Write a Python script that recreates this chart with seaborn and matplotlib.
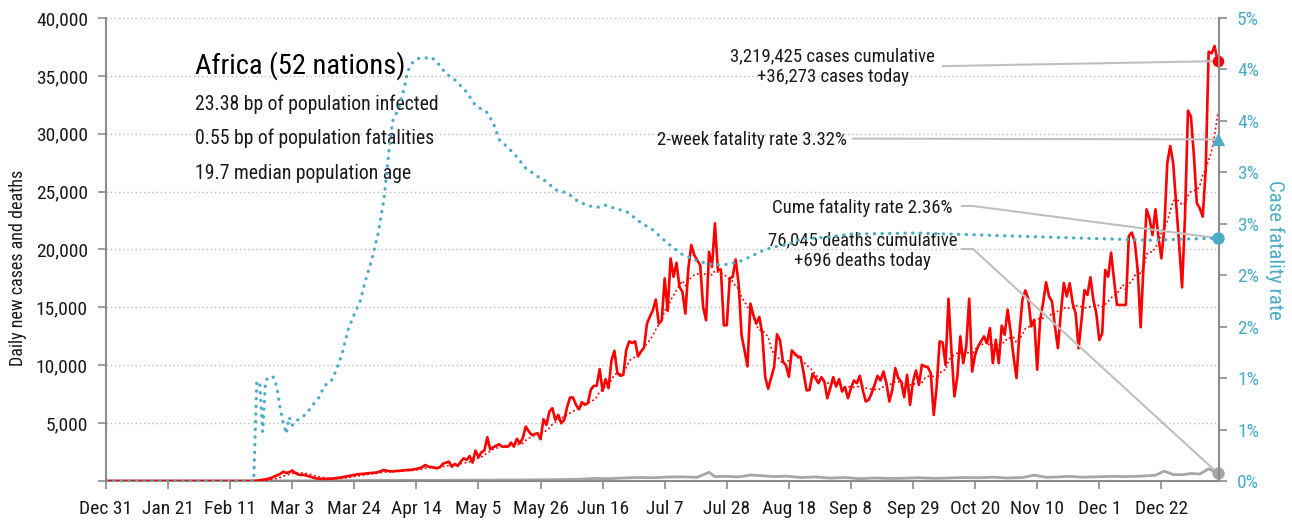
import numpy as np
import pandas as pd
import matplotlib
matplotlib.use("Agg")
import matplotlib.pyplot as plt
import matplotlib.dates as mdates
from matplotlib import font_manager
from matplotlib.ticker import FuncFormatter, FixedLocator
import seaborn as sns

# ---------------------------------------------------------------- data
start_date = "2019-12-31"
first_case_day = 50          # days after start_date

# daily new cases, one value per day from first_case_day to Jan 10 2021
daily_cases = [
    10, 30, 60, 100, 150, 200, 280, 400, 500, 620,
    800, 700, 760, 900, 700, 560, 520, 540, 450, 380,
    300, 230, 200, 190, 180, 190, 200, 220, 260, 290,
    330, 380, 430, 480, 520, 580, 600, 620, 650, 680,
    700, 720, 760, 850, 950, 880, 850, 820, 870, 860,
    900, 930, 960, 950, 1000, 1050, 1100, 1200, 1380, 1250,
    1200, 1150, 1100, 1200, 1500, 1590, 1670, 1240, 1470, 1300,
    1670, 1960, 1820, 2160, 1590, 2630, 2050, 2480, 2630, 3780,
    2740, 2910, 3050, 3170, 2970, 2960, 2970, 3320, 2970, 3640,
    3260, 3700, 4700, 4300, 3980, 4050, 4130, 3610, 5340, 4850,
    6000, 6290, 5280, 5710, 4990, 5280, 6400, 7210, 7210, 6580,
    6200, 6810, 6580, 6720, 7880, 8220, 8220, 9660, 7790, 8800,
    8020, 10410, 11250, 9320, 9090, 9170, 11340, 12060, 11920, 12060,
    10760, 11200, 11500, 13600, 14200, 14750, 15680, 13600, 13890, 17500,
    14700, 19230, 17640, 18850, 16770, 16340, 14460, 18360, 20380, 19520,
    19080, 18650, 15040, 13890, 19800, 18510, 22260, 18220, 18270, 13450,
    13450, 17500, 17640, 19140, 17060, 12590, 11290, 9900, 15330, 14320,
    13600, 14180, 12730, 8980, 7970, 8900, 9840, 12670, 12150, 10300,
    10000, 9000, 11280, 11000, 10760, 10700, 9320, 7820, 7880, 9260,
    8890, 8450, 8970, 8600, 7150, 8020, 8970, 8160, 8800, 7730,
    8110, 7150, 8020, 8680, 8450, 9090, 7880, 6870, 7010, 7590,
    8300, 9090, 8680, 9460, 8450, 6870, 7880, 9750, 8890, 8600,
    7240, 9170, 6580, 8600, 9550, 8310, 10040, 9900, 9840, 9320,
    5710, 8160, 12060, 11970, 10040, 15750, 11190, 7300, 9030, 12490,
    10180, 11630, 15750, 9460, 10900, 11630, 12060, 12490, 11910, 13210,
    10180, 12200, 10180, 13420, 12640, 14800, 12920, 10760, 8890, 12780,
    15670, 16470, 15720, 13360, 13930, 9610, 13930, 15380, 17170, 15950,
    15520, 13360, 11480, 14510, 17110, 15950, 17080, 15350, 14490, 11460,
    13910, 16500, 16070, 17600, 15640, 14490, 12180, 12760, 18230, 17650,
    19730, 17370, 15210, 15210, 15210, 15210, 21170, 21460, 20680, 18230,
    13280, 18810, 23470, 22690, 21250, 23470, 21110, 19240, 21830, 27450,
    28940, 27450, 23990, 20530, 16730, 22840, 32000, 31480, 28170, 23990,
    23560, 22840, 26870, 37090, 36950, 37580, 36273,
]

# cumulative case fatality rate (%), by day offset
cfr_days = [0, 50, 51, 52, 53, 54, 55, 56, 57, 58, 59, 60, 61, 62, 63, 64, 66, 68,
            70, 72, 74, 76, 78, 80, 82, 84, 86, 88, 90, 92, 94, 96, 97, 99, 101,
            102, 104, 106, 108, 110, 112, 115, 118, 122, 125, 129, 131, 133, 136,
            139, 142, 146, 149, 152, 156, 160, 164, 167, 169, 172, 176, 181, 185,
            190, 195, 200, 204, 209, 214, 218, 223, 227, 231, 235, 244, 252, 274,
            297, 319, 342, 353, 364, 376]
cfr_pct = [0.0, 0.0, 0.95, 0.97, 0.48, 0.98, 1.00, 1.02, 1.00, 0.88, 0.70, 0.56, 0.46,
           0.62, 0.54, 0.58, 0.61, 0.66, 0.74, 0.81, 0.93, 0.96, 1.08, 1.25, 1.48,
           1.62, 1.75, 1.97, 2.16, 2.40, 2.73, 3.28, 3.50, 3.62, 3.83, 3.98, 4.08,
           4.11, 4.11, 4.12, 4.07, 3.96, 3.90, 3.78, 3.65, 3.58, 3.48, 3.32, 3.24,
           3.15, 3.04, 2.96, 2.91, 2.83, 2.80, 2.71, 2.67, 2.66, 2.68, 2.65, 2.62,
           2.51, 2.44, 2.31, 2.20, 2.14, 2.11, 2.10, 2.13, 2.18, 2.25, 2.28, 2.30,
           2.35, 2.37, 2.40, 2.41, 2.39, 2.37, 2.35, 2.34, 2.35, 2.36]

# daily new deaths, by day offset
death_days = [0, 50, 60, 70, 80, 90, 100, 110, 120, 130, 140, 150, 160, 165, 170,
              175, 180, 185, 190, 195, 200, 204, 206, 210, 214, 218, 222, 226, 230,
              235, 240, 245, 250, 255, 260, 265, 270, 275, 280, 285, 290, 295, 300,
              305, 310, 314, 318, 322, 326, 330, 335, 340, 345, 350, 355, 358, 361,
              364, 367, 370, 373, 376]
daily_deaths = [0, 0, 10, 15, 30, 50, 60, 60, 70, 80, 90, 110, 150, 220, 200,
                260, 300, 280, 340, 360, 320, 750, 380, 400, 350, 520, 450, 380, 420,
                300, 350, 250, 300, 200, 260, 220, 240, 280, 230, 260, 300, 280, 330,
                260, 300, 500, 320, 350, 400, 330, 360, 400, 380, 420, 500, 850, 560,
                540, 650, 600, 1050, 696]

region = "Africa"
nations = 52
bp_infected = 23.38
bp_fatalities = 0.55
median_age = 19.7
cases_cumulative = 3219425
cases_today = 36273
deaths_cumulative = 76045
deaths_today = 696
fatality_2wk = 3.32
fatality_cume = 2.36

# ---------------------------------------------------------------- style
sns.set_theme(style="white")
available = {f.name for f in font_manager.fontManager.ttflist}
family = "DejaVu Sans"
for cand in ["Liberation Sans Narrow", "Roboto Condensed", "Open Sans Condensed",
             "Noto Sans Condensed", "Liberation Sans"]:
    if cand in available:
        family = cand
        break
plt.rcParams["font.family"] = [family, "DejaVu Sans"]

RED = "#FF0000"
TEAL = "#4BACC6"
GREY_LINE = "#A6A6A6"
SPINE = "#8C8C8C"
LEADER = "#BFBFBF"
INK = "#1A1A1A"
NOTE_SIZE = 13.5

# ---------------------------------------------------------------- frames
start = pd.Timestamp(start_date)
cases = np.array([0] * first_case_day + daily_cases, dtype=float)
dates = pd.date_range(start, periods=len(cases), freq="D")
cases_df = pd.DataFrame({"date": dates, "cases": cases})
cases_df["avg7"] = cases_df["cases"].rolling(7, min_periods=1).mean()

cfr_df = pd.DataFrame({"date": start + pd.to_timedelta(cfr_days, unit="D"),
                       "cfr": np.array(cfr_pct) / 100.0})
deaths_df = pd.DataFrame({"date": start + pd.to_timedelta(death_days, unit="D"),
                          "deaths": daily_deaths})
last = dates[-1]

# ---------------------------------------------------------------- figure
fig = plt.figure(figsize=(12.92, 5.20), dpi=100, facecolor="white")
ax = fig.add_axes([0.0820, 0.0750, 0.8615, 0.8904])
ax2 = ax.twinx()
ax2.patch.set_visible(False)

sns.lineplot(data=deaths_df, x="date", y="deaths", ax=ax, color=GREY_LINE,
             linewidth=2.0, zorder=2)
sns.lineplot(data=cases_df, x="date", y="avg7", ax=ax, color=RED, linewidth=1.4,
             linestyle=(0, (0.1, 2.2)), dash_capstyle="round", zorder=3)
sns.lineplot(data=cases_df, x="date", y="cases", ax=ax, color=RED, linewidth=1.9,
             zorder=4)
sns.lineplot(data=cfr_df, x="date", y="cfr", ax=ax2, color=TEAL, linewidth=2.3,
             linestyle=(0, (0.1, 2.3)), dash_capstyle="round", zorder=3)

# end-of-series markers
sns.scatterplot(x=[last], y=[cases_today], ax=ax, color=RED, s=70, marker="o",
                edgecolor=RED, linewidth=0, clip_on=False, zorder=6)
sns.scatterplot(x=[last], y=[deaths_today], ax=ax, color=GREY_LINE, s=80, marker="o",
                linewidth=0, clip_on=False, zorder=6)
sns.scatterplot(x=[last], y=[fatality_2wk / 100], ax=ax2, color=TEAL, s=90, marker="^",
                linewidth=0, clip_on=False, zorder=6)
sns.scatterplot(x=[last], y=[fatality_cume / 100], ax=ax2, color=TEAL, s=80, marker="o",
                linewidth=0, clip_on=False, zorder=6)

# ---------------------------------------------------------------- axes
ax.set_xlim(dates[0], last + pd.Timedelta(hours=12))
ax.set_ylim(0, 40000)
ax2.set_ylim(0, 0.045)

xticks = pd.date_range(start, last, freq="21D")
ax.xaxis.set_major_locator(FixedLocator(mdates.date2num(xticks)))
ax.xaxis.set_major_formatter(FuncFormatter(
    lambda v, p: f"{mdates.num2date(v):%b} {mdates.num2date(v).day}"))

ax.yaxis.set_major_locator(FixedLocator(np.arange(0, 40001, 5000)))
ax.yaxis.set_major_formatter(FuncFormatter(lambda v, p: "" if v == 0 else f"{int(v):,}"))
ax2.yaxis.set_major_locator(FixedLocator(np.arange(0, 0.0451, 0.005)))
ax2.yaxis.set_major_formatter(FuncFormatter(
    lambda v, p: f"{int(np.floor(v * 100 + 0.5 + 1e-9))}%"))

ax.set_xlabel("")
ax.set_ylabel("")
ax2.set_ylabel("")

ax.yaxis.grid(True, linestyle=(0, (1, 2)), color="#BDBDBD", linewidth=1.0)
ax.xaxis.grid(False)
ax2.grid(False)

for a in (ax, ax2):
    a.spines["top"].set_visible(False)
ax.spines["right"].set_visible(False)
ax2.spines["left"].set_visible(False)
ax2.spines["bottom"].set_visible(False)
for s in (ax.spines["left"], ax.spines["bottom"], ax2.spines["right"]):
    s.set_color(SPINE)
    s.set_linewidth(1.5)

ax.tick_params(axis="x", direction="out", length=6, width=1.2, color=SPINE,
               labelsize=14, labelcolor=INK, pad=8, bottom=True)
ax.tick_params(axis="y", direction="out", length=6, width=1.2, color=SPINE,
               labelsize=14, labelcolor=INK, pad=7, left=True)
ax2.tick_params(axis="y", direction="out", length=6, width=1.2, color=SPINE,
                labelsize=14, labelcolor=TEAL, pad=7, right=True)

ax.text(-0.079, 0.461, "Daily new cases and deaths", transform=ax.transAxes,
        rotation=90, rotation_mode="anchor", ha="center", va="center",
        fontsize=13, color=INK)
ax.text(1.050, 0.499, "Case fatality rate", transform=ax.transAxes,
        rotation=270, rotation_mode="anchor", ha="center", va="center",
        fontsize=15, color=TEAL)

# ---------------------------------------------------------------- text block
ax.text(0.080, 0.898, f"{region} ({nations} nations)", transform=ax.transAxes,
        ha="left", va="center", fontsize=20.5, color="black")
stats = [f"{bp_infected:.2f} bp of population infected",
         f"{bp_fatalities:.2f} bp of population fatalities",
         f"{median_age:.1f} median population age"]
for i, line in enumerate(stats):
    ax.text(0.080, 0.814 - 0.0745 * i, line, transform=ax.transAxes,
            ha="left", va="center", fontsize=14.2, color=INK)


# ---------------------------------------------------------------- callouts
def to_axes(axis, x, y):
    disp = axis.transData.transform((mdates.date2num(x), y))
    return ax.transAxes.inverted().transform(disp)


def leader(points):
    xs, ys = zip(*points)
    ax.plot(xs, ys, transform=ax.transAxes, color=LEADER, linewidth=1.5,
            clip_on=False, zorder=5, solid_capstyle="butt")


fig.canvas.draw()

ax.text(0.653, 0.895, f"{cases_cumulative:,} cases cumulative\n+{cases_today:,} cases today",
        transform=ax.transAxes, ha="center", va="center", fontsize=NOTE_SIZE,
        linespacing=1.2, color=INK)
leader([(0.751, 0.896), tuple(to_axes(ax, last, cases_today))])

ax.text(0.666, 0.7365, f"2-week fatality rate {fatality_2wk:.2f}%",
        transform=ax.transAxes, ha="right", va="center", fontsize=NOTE_SIZE, color=INK)
leader([(0.670, 0.7395), tuple(to_axes(ax2, last, fatality_2wk / 100))])

ax.text(0.761, 0.590, f"Cume fatality rate {fatality_cume:.2f}%",
        transform=ax.transAxes, ha="right", va="center", fontsize=NOTE_SIZE, color=INK)
leader([(0.768, 0.594), (0.779, 0.594), tuple(to_axes(ax2, last, fatality_cume / 100))])

ax.text(0.680, 0.498, f"{deaths_cumulative:,} deaths cumulative\n+{deaths_today:,} deaths today",
        transform=ax.transAxes, ha="center", va="center", fontsize=NOTE_SIZE,
        linespacing=1.2, color=INK)
leader([(0.768, 0.501), (0.779, 0.501), tuple(to_axes(ax, last, deaths_today))])

fig.savefig("out.png", dpi=100, facecolor="white")
